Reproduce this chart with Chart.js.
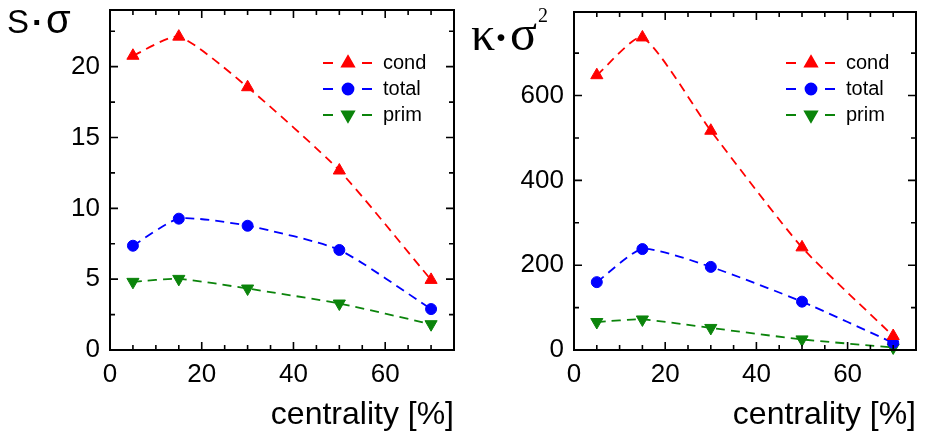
<!DOCTYPE html>
<html>
<head>
<meta charset="utf-8">
<script src="https://cdn.jsdelivr.net/npm/chart.js@4.4.0/dist/chart.umd.min.js"></script>
<style>
  html, body { margin: 0; padding: 0; background: #fff; }
  #wrap { position: relative; width: 926px; height: 431px; }
  canvas { position: absolute; top: 0; }
</style>
</head>
<body>
<div id="wrap">
  <canvas id="skew" width="463" height="431" style="left:0"></canvas>
  <canvas id="kurt" width="463" height="431" style="left:463px"></canvas>
</div>
<script>
// centrality classes (%)
const centrality = [5, 15, 30, 50, 70];

// S*sigma
const skewCond = [20.77, 22.12, 18.55, 12.67, 4.95];
const skewTotal = [7.36, 9.27, 8.77, 7.06, 2.89];
const skewPrim = [4.81, 5.02, 4.34, 3.28, 1.82];

// kappa*sigma^2
const kurtCond = [648, 737, 517, 242, 33];
const kurtTotal = [160, 238, 196, 114, 17];
const kurtPrim = [66, 72, 52, 25, 6];

const seriesNames = ["cond", "total", "prim"];
const xTicks = [0, 20, 40, 60];
const skewTicks = [0, 5, 10, 15, 20];
const kurtTicks = [0, 200, 400, 600];

const RED = "#ff0000", BLUE = "#0000ff", GREEN = "#0b840b";
const SANS = "'Liberation Sans', Arial, sans-serif";
const SERIF = "'Liberation Serif', 'Times New Roman', serif";

function points(ys) {
  return centrality.map((x, i) => ({ x: x, y: ys[i] }));
}

function series(label, ys, color, style, radius, rotation) {
  return {
    label: label,
    data: points(ys),
    borderColor: color,
    backgroundColor: color,
    borderWidth: 1.8,
    borderDash: [9, 6],
    tension: 0.2,
    pointStyle: style,
    pointRadius: radius,
    pointRotation: rotation,
    pointBorderWidth: 1,
    pointBorderColor: color,
    pointBackgroundColor: color,
    clip: false
  };
}

// box with inward ticks on all four sides
const frame = {
  id: "frame",
  afterDraw(chart, args, o) {
    const { ctx, chartArea: a, scales: { x, y } } = chart;
    ctx.save();
    ctx.strokeStyle = "#000";
    ctx.lineWidth = 2;
    ctx.strokeRect(a.left, a.top, a.right - a.left, a.bottom - a.top);
    ctx.lineWidth = 1.6;
    ctx.beginPath();
    for (let k = 0; k * o.xMinor <= x.max + 1e-9; k++) {
      const v = k * o.xMinor;
      const len = Math.abs(v / o.xMajor - Math.round(v / o.xMajor)) < 1e-6 ? 8 : 5;
      const px = x.getPixelForValue(v);
      ctx.moveTo(px, a.bottom); ctx.lineTo(px, a.bottom - len);
      ctx.moveTo(px, a.top); ctx.lineTo(px, a.top + len);
    }
    for (let k = 0; k * o.yMinor <= y.max + 1e-9; k++) {
      const v = k * o.yMinor;
      const len = Math.abs(v / o.yMajor - Math.round(v / o.yMajor)) < 1e-6 ? 8 : 5;
      const py = y.getPixelForValue(v);
      ctx.moveTo(a.left, py); ctx.lineTo(a.left + len, py);
      ctx.moveTo(a.right, py); ctx.lineTo(a.right - len, py);
    }
    ctx.stroke();
    ctx.restore();
  }
};

// legend inside the plot: dash - marker - dash, then name
const innerLegend = {
  id: "innerLegend",
  afterDraw(chart, args, o) {
    const ctx = chart.ctx;
    ctx.save();
    chart.data.datasets.forEach((ds, i) => {
      const yy = o.y + i * o.gap;
      ctx.strokeStyle = ds.borderColor;
      ctx.lineWidth = 1.8;
      ctx.beginPath();
      ctx.moveTo(o.x, yy); ctx.lineTo(o.x + 10, yy);
      ctx.moveTo(o.x + 39, yy); ctx.lineTo(o.x + 49, yy);
      ctx.stroke();
      ctx.fillStyle = ds.pointBackgroundColor;
      Chart.helpers.drawPoint(ctx, {
        pointStyle: ds.pointStyle,
        radius: ds.pointRadius,
        rotation: ds.pointRotation,
        borderWidth: 1
      }, o.x + 25, yy);
      ctx.fillStyle = "#000";
      ctx.font = "20px " + SANS;
      ctx.textBaseline = "middle";
      ctx.textAlign = "left";
      ctx.fillText(ds.label, o.x + 60, yy);
    });
    ctx.restore();
  }
};

// axis quantity label in the top left corner
const cornerLabel = {
  id: "cornerLabel",
  afterDraw(chart, args, o) {
    const ctx = chart.ctx;
    ctx.save();
    ctx.fillStyle = "#000";
    ctx.textBaseline = "alphabetic";
    ctx.textAlign = "left";
    o.parts.forEach(p => {
      ctx.font = p.font;
      ctx.fillText(p.t, p.x, p.y);
    });
    ctx.restore();
  }
};

function makeChart(id, sets, yMax, ticks, yw, pad, frameOpts, labelParts) {
  return new Chart(document.getElementById(id), {
    type: "line",
    data: { datasets: sets },
    options: {
      responsive: false,
      animation: false,
      devicePixelRatio: 1,
      layout: { padding: pad },
      plugins: {
        legend: { display: false },
        tooltip: { enabled: false },
        frame: frameOpts,
        innerLegend: { x: 323, y: 63, gap: 26 },
        cornerLabel: { parts: labelParts }
      },
      scales: {
        x: {
          type: "linear",
          min: 0,
          max: 75,
          afterFit: s => { s.height = 81; s.paddingLeft = 0; s.paddingRight = 0; },
          afterBuildTicks: s => { s.ticks = xTicks.map(v => ({ value: v })); },
          grid: { display: false, drawTicks: false },
          border: { display: false },
          ticks: {
            color: "#000",
            padding: 9,
            font: { family: SANS, size: 26 }
          },
          title: {
            display: true,
            text: "centrality [%]",
            align: "end",
            color: "#000",
            padding: 0,
            font: { family: SANS, size: 32, lineHeight: 1 }
          }
        },
        y: {
          type: "linear",
          min: 0,
          max: yMax,
          afterFit: s => { s.width = yw; s.paddingTop = 0; s.paddingBottom = 0; },
          afterBuildTicks: s => { s.ticks = ticks.map(v => ({ value: v })); },
          grid: { display: false, drawTicks: false },
          border: { display: false },
          ticks: {
            color: "#000",
            padding: 10,
            font: { family: SANS, size: 26 }
          }
        }
      }
    },
    plugins: [frame, innerLegend, cornerLabel]
  });
}

makeChart("skew", [
  series(seriesNames[0], skewCond, RED, "triangle", 7, 0),
  series(seriesNames[1], skewTotal, BLUE, "circle", 5.5, 0),
  series(seriesNames[2], skewPrim, GREEN, "triangle", 7, 180)
], 24, skewTicks, 110, { top: 10, right: 9, left: 0, bottom: 0 },
  { xMinor: 5, xMajor: 20, yMinor: 2.5, yMajor: 5 },
  [
    { t: "S", x: 7, y: 33, font: "33px " + SANS },
    { t: "\u00b7", x: 32, y: 34, font: "bold 34px " + SANS },
    { t: "\u03c3", x: 46, y: 33, font: "40px " + SANS }
  ]);

makeChart("kurt", [
  series(seriesNames[0], kurtCond, RED, "triangle", 7, 0),
  series(seriesNames[1], kurtTotal, BLUE, "circle", 5.5, 0),
  series(seriesNames[2], kurtPrim, GREEN, "triangle", 7, 180)
], 797, kurtTicks, 111, { top: 12, right: 10, left: 0, bottom: 0 },
  { xMinor: 5, xMajor: 20, yMinor: 100, yMajor: 200 },
  [
    { t: "\u03ba", x: 8, y: 50, font: "48px " + SERIF },
    { t: "\u00b7", x: 31, y: 52, font: "bold 42px " + SERIF },
    { t: "\u03c3", x: 47, y: 50, font: "50px " + SERIF },
    { t: "2", x: 75, y: 22, font: "20px " + SERIF }
  ]);
</script>
</body>
</html>
